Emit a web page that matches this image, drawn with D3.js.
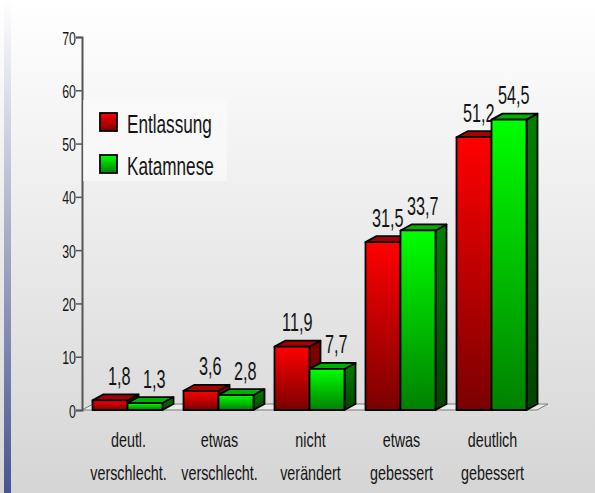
<!DOCTYPE html>
<html>
<head>
<meta charset="utf-8">
<script src="https://cdn.jsdelivr.net/npm/d3@7"></script>
<style>
  body { margin: 0; }
  svg { display: block; }
</style>
</head>
<body>
<svg id="chart"></svg>
<script>
// data
const categories = ['deutl.\nverschlecht.', 'etwas\nverschlecht.', 'nicht\nverändert', 'etwas\ngebessert', 'deutlich\ngebessert'];
const series = ['Entlassung', 'Katamnese'];
const entlassung = [1.8, 3.6, 11.9, 31.5, 51.2];
const katamnese = [1.3, 2.8, 7.7, 33.7, 54.5];
const yTicks = [0, 10, 20, 30, 40, 50, 60, 70];

const values = { Entlassung: entlassung, Katamnese: katamnese };

const width = 595, height = 493;
const DX = 11, DY = -6;
const FONT = '"Liberation Sans", Arial, sans-serif';

const svg = d3.select('#chart').attr('width', width).attr('height', height);
const defs = svg.append('defs');

function vGrad(id, c1, c2) {
  const g = defs.append('linearGradient').attr('id', id)
    .attr('x1', 0).attr('y1', 0).attr('x2', 0).attr('y2', 1);
  g.append('stop').attr('offset', 0).attr('stop-color', c1);
  g.append('stop').attr('offset', 1).attr('stop-color', c2);
}
vGrad('bg', '#ffffff', '#d5d5d5');
vGrad('strip', '#ffffff', '#47548f');
vGrad('redFront', '#ff0000', '#7a0000');
vGrad('redSide', '#8a0000', '#4a0000');
vGrad('greenFront', '#00ff00', '#008000');
vGrad('greenSide', '#008000', '#004400');

const colors = {
  Entlassung: { front: 'url(#redFront)', top: '#a80000', side: 'url(#redSide)' },
  Katamnese: { front: 'url(#greenFront)', top: '#00b000', side: 'url(#greenSide)' }
};

// background
svg.append('rect').attr('width', width).attr('height', height).attr('fill', 'url(#bg)');
svg.append('rect').attr('x', 4).attr('y', 0).attr('width', 7).attr('height', height).attr('fill', 'url(#strip)');

const y = d3.scaleLinear().domain([0, 70]).range([410, 37]);
const x0 = d3.scaleBand().domain(categories).range([82, 537]);
const x1 = d3.scaleBand().domain(series).range([0, x0.bandwidth()]).paddingOuter(0.3);

function txt(parent, x, yy, str, size, sx, anchor) {
  return parent.append('text')
    .attr('transform', `translate(${x},${yy}) scale(${sx},1)`)
    .attr('text-anchor', anchor)
    .attr('font-family', FONT)
    .attr('font-size', size)
    .attr('fill', '#151515')
    .text(str);
}

// floor
const [fx0, fx1] = x0.range();
svg.append('polygon')
  .attr('points', [[fx0, y(0)], [fx1, y(0)], [fx1 + DX, y(0) + DY], [fx0 + DX, y(0) + DY]].join(' '))
  .attr('fill', '#ebebeb').attr('stroke', '#7a7a7a').attr('stroke-width', 1);

// y axis
const yAxis = d3.axisLeft(y).tickValues(yTicks).tickSize(6).tickPadding(1);
const ga = svg.append('g').attr('transform', `translate(${fx0},0)`).call(yAxis);
ga.select('.domain').attr('stroke', '#555').attr('stroke-width', 2);
ga.selectAll('.tick line').attr('stroke', '#555').attr('stroke-width', 1.5);
ga.selectAll('.tick text')
  .attr('x', null).attr('dy', null)
  .attr('transform', 'translate(-6,7) scale(0.65,1)')
  .attr('font-family', FONT).attr('font-size', 19).attr('fill', '#151515');

// bars
const fmt = v => d3.format('.1f')(v).replace('.', ',');
categories.forEach((cat, i) => {
  series.forEach(s => {
    const v = values[s][i];
    const bx = x0(cat) + x1(s), bw = x1.bandwidth();
    const top = y(v), base = y(0);
    const g = svg.append('g').attr('stroke', '#000').attr('stroke-width', 1.8).attr('stroke-linejoin', 'round');
    g.append('polygon')
      .attr('points', [[bx + bw, top], [bx + bw + DX, top + DY], [bx + bw + DX, base + DY], [bx + bw, base]].join(' '))
      .attr('fill', colors[s].side);
    g.append('polygon')
      .attr('points', [[bx, top], [bx + DX, top + DY], [bx + bw + DX, top + DY], [bx + bw, top]].join(' '))
      .attr('fill', colors[s].top);
    g.append('rect').attr('x', bx).attr('y', top).attr('width', bw).attr('height', base - top)
      .attr('fill', colors[s].front);
    txt(svg, bx + bw + 3, top + DY - 9.5, fmt(v), 25, 0.65, 'end');
  });
  const lines = cat.split('\n');
  lines.forEach((l, k) => {
    txt(svg, x0(cat) + x0.bandwidth() / 2 + 1, 447 + k * 33, l, 20.5, 0.7, 'middle');
  });
});

// legend
const lg = svg.append('g');
lg.append('rect').attr('x', 83).attr('y', 100).attr('width', 144).attr('height', 81)
  .attr('fill', '#fafafa').attr('opacity', 0.75);
series.forEach((s, k) => {
  const ly = 113 + k * 42;
  lg.append('rect').attr('x', 100).attr('y', ly).attr('width', 17).attr('height', 18)
    .attr('fill', colors[s].front).attr('stroke', '#000').attr('stroke-width', 1.8);
  txt(lg, 127, ly + 20, s, 26, 0.66, 'start');
});
</script>
</body>
</html>
